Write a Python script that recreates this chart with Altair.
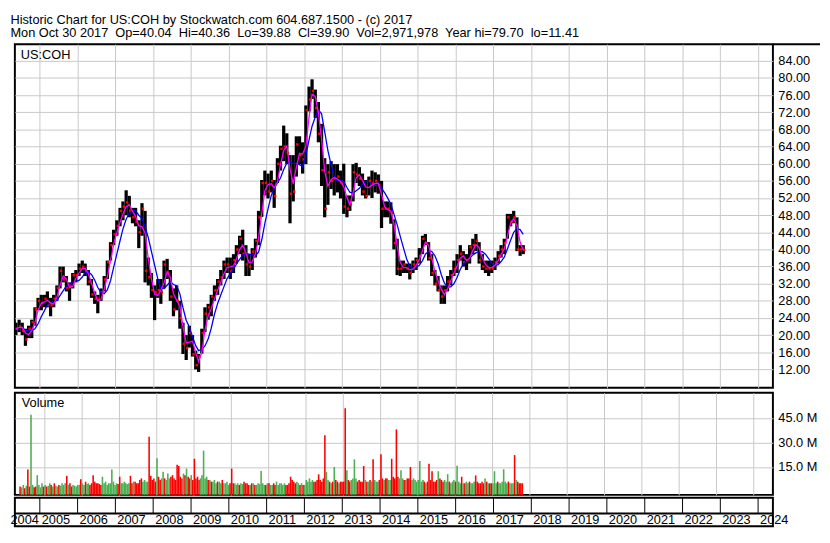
import altair as alt
import pandas as pd

FONT = "Liberation Sans"
GRID = "#c8c8c8"
PW, PH, VH, AH = 772, 350, 104, 29
ROW = 16

TITLE_1 = "Historic Chart for US:COH by Stockwatch.com 604.687.1500 - (c) 2017"
TITLE_2 = ("Mon Oct 30 2017\u00a0 Op=40.04\u00a0 Hi=40.36\u00a0 Lo=39.88\u00a0 Cl=39.90"
           "\u00a0 Vol=2,971,978\u00a0 Year hi=79.70\u00a0 lo=11.41")

# Monthly price bars, May 2004 .. Oct 2017 (one line per year)
HIGH = [
    22.9, 23.6, 22.9, 21.5, 22.2, 23.6, 26.5, 28.7,
    29.4, 29.4, 30.2, 28.7, 29.4, 31.6, 36.0, 36.0, 33.8, 32.3, 34.5, 35.2,
    36.7, 37.4, 36.7, 35.2, 33.1, 30.2, 29.4, 30.9, 33.8, 37.4, 41.7, 44.6,
    46.8, 49.7, 51.2, 53.8, 52.5, 49.7, 49.7, 46.8, 50.8, 49.0, 38.1, 34.5,
    31.6, 33.1, 33.1, 37.4, 37.8, 35.2, 30.9, 31.6, 28.0, 22.9, 20.0, 22.2,
    20.0, 16.4, 15.6, 21.5, 26.5, 27.3, 29.4, 31.6, 33.1, 35.2, 37.4, 38.1,
    38.1, 38.9, 41.0, 43.2, 44.6, 41.0, 38.9, 40.3, 42.5, 49.0, 56.2, 58.4,
    57.7, 58.4, 56.2, 61.3, 64.2, 68.9, 67.1, 62.0, 62.0, 66.4, 66.4, 65.0,
    73.6, 78.0, 79.7, 77.3, 74.4, 69.3, 61.3, 59.9, 60.6, 59.9, 59.9, 58.4,
    60.0, 52.6, 52.6, 59.9, 60.2, 59.2, 57.7, 56.2, 57.0, 58.4, 58.0, 57.5,
    56.0, 51.2, 51.2, 51.0, 47.0, 42.5, 37.4, 37.4, 36.7, 36.7, 37.4, 38.1,
    40.3, 43.2, 43.6, 41.7, 38.9, 35.2, 33.8, 31.6, 31.6, 33.8, 35.2, 37.4,
    38.9, 41.0, 39.6, 38.9, 41.0, 42.5, 43.6, 41.7, 38.9, 37.4, 37.4, 37.4,
    38.1, 39.6, 41.0, 42.5, 48.3, 48.3, 49.0, 47.5, 41.0, 41.0,
]
LOW = [
    20.0, 20.7, 20.0, 17.5, 19.3, 19.3, 22.2, 25.8,
    25.8, 26.5, 26.5, 24.4, 26.5, 28.0, 30.9, 32.3, 30.2, 28.0, 30.9, 32.3,
    33.8, 34.5, 33.8, 31.6, 28.7, 27.3, 25.1, 28.0, 30.2, 33.1, 37.4, 41.0,
    43.2, 45.4, 46.8, 48.0, 47.5, 46.1, 45.4, 40.3, 43.2, 32.3, 31.6, 28.7,
    23.5, 28.7, 27.3, 30.9, 33.1, 28.0, 24.4, 25.8, 21.5, 15.6, 14.2, 17.1,
    15.0, 12.0, 11.41, 15.7, 20.7, 23.6, 24.4, 28.0, 29.4, 31.6, 33.1, 34.5,
    33.1, 34.5, 36.7, 38.9, 37.4, 33.8, 33.8, 35.2, 38.1, 41.0, 47.6, 52.6,
    51.9, 53.3, 49.7, 55.5, 58.4, 60.6, 59.9, 46.1, 51.2, 57.0, 59.9, 57.7,
    59.9, 72.2, 75.1, 70.7, 65.0, 54.8, 47.5, 50.4, 54.1, 52.6, 53.3, 51.9,
    48.3, 47.5, 49.0, 51.2, 55.5, 54.8, 52.6, 51.9, 52.6, 52.0, 53.3, 53.0,
    45.0, 47.5, 47.5, 46.0, 40.0, 34.0, 33.8, 34.5, 34.5, 33.0, 34.5, 35.2,
    36.7, 38.9, 41.0, 37.4, 33.8, 31.6, 30.2, 27.3, 27.3, 30.2, 31.6, 33.8,
    34.5, 37.4, 36.0, 35.2, 36.7, 38.9, 39.6, 36.7, 35.2, 34.5, 33.8, 34.5,
    35.2, 36.7, 38.1, 38.9, 42.5, 45.4, 46.1, 39.6, 38.5, 38.9,
]
CLOSE = [
    21.5, 22.0, 21.0, 19.0, 21.5, 23.0, 26.0, 28.0,
    27.5, 28.5, 27.0, 27.0, 28.5, 31.0, 35.0, 33.0, 31.0, 31.5, 34.0, 34.0,
    35.5, 36.0, 35.0, 32.5, 29.5, 28.5, 28.5, 30.0, 33.0, 37.0, 41.0, 43.5,
    45.5, 49.0, 50.0, 51.0, 49.0, 47.5, 46.5, 44.0, 49.5, 35.0, 33.5, 30.5,
    30.0, 30.5, 30.0, 36.5, 34.5, 29.0, 26.0, 28.0, 24.0, 18.0, 17.0, 20.5,
    15.5, 13.0, 15.0, 20.5, 25.0, 26.5, 29.0, 30.5, 32.5, 33.5, 36.5, 36.5,
    35.0, 37.5, 40.0, 42.5, 39.0, 36.5, 36.0, 39.5, 42.0, 47.5, 55.5, 55.5,
    53.5, 56.0, 52.5, 60.0, 63.5, 64.0, 62.5, 53.0, 53.5, 64.5, 62.0, 61.0,
    72.5, 75.0, 77.0, 73.0, 67.0, 58.5, 49.5, 58.0, 56.0, 56.5, 57.0, 55.5,
    50.0, 49.5, 50.5, 58.0, 57.5, 56.5, 53.5, 52.5, 56.0, 55.5, 56.0, 55.0,
    49.5, 49.5, 49.5, 48.5, 41.5, 35.5, 35.5, 36.5, 35.5, 34.5, 36.5, 37.5,
    38.5, 42.5, 41.5, 38.0, 34.5, 32.0, 30.5, 29.0, 30.5, 32.5, 34.0, 35.5,
    37.5, 39.0, 37.0, 37.5, 40.5, 41.0, 42.0, 37.5, 36.0, 35.5, 35.5, 35.5,
    37.0, 38.5, 40.0, 41.5, 47.5, 46.5, 47.5, 40.0, 40.0, 39.9,
]

# Volume in millions, two bars per month (first half, second half)
VOLUME = [
    3, 2.5, 4, 2, 3.5, 13.4, 3, 47, 4, 2.5, 3, 10, 4, 2.5, 5, 3,
    4, 3, 3.5, 5, 4, 3, 5, 3.5, 3, 4, 3.5, 5, 4, 5, 9.6, 4, 5, 3, 4, 3.5, 3, 4, 4, 7.5,
    5, 4, 6, 4.5, 5, 4, 5, 10, 6, 5, 5, 4.5, 4, 9, 5, 6, 4, 5, 5, 13.4, 6, 4, 5, 4.5,
    9, 5, 5, 6, 5, 4.5, 5, 9.6, 5, 6, 6, 5, 5, 7, 8, 6, 7, 6, 6, 33.5, 9.6, 7, 8, 6,
    20.4, 9, 7, 8, 12, 8, 7, 11, 8, 9, 10, 8, 7, 16.3, 15.6, 9, 8, 11, 10, 14, 9, 8, 10, 7,
    20, 8, 9, 7, 8, 10, 25, 8, 9, 7, 7, 6, 6, 7, 5, 6, 6, 5, 7, 5, 5, 6, 4, 5,
    14, 5, 5, 4, 5, 4, 5, 4.5, 6, 5, 5, 4, 4, 5, 5, 4, 4, 5, 4.5, 12.5, 5, 4, 4, 5,
    5, 4, 4, 5, 4, 6, 4, 5, 5, 4, 5, 4, 4, 5, 9, 7, 6, 5, 6, 5, 4, 5, 4, 4,
    7, 6, 8, 6, 7, 6, 6, 7, 10.5, 7, 6, 8, 34.4, 12, 7, 6, 5, 6, 15, 7, 6, 5, 6, 6,
    6, 51, 13, 7, 6, 7, 8, 19.7, 8, 6, 7, 6, 6, 15.6, 7, 6, 6, 7, 6, 19.7, 7, 6, 6, 7,
    22.8, 8, 7, 8, 8, 7, 7, 20, 9, 8, 38, 9, 8, 13, 8, 7, 7, 8, 8, 15, 7, 8, 7, 6,
    7, 18.6, 6, 7, 6, 5, 6, 17, 7, 12.4, 6, 6, 7, 12.4, 8, 7, 6, 7, 6, 10.6, 6, 5, 6, 7,
    6, 15.8, 6, 5, 9, 5, 5, 6, 5, 6, 5, 5, 6, 9.8, 6, 5, 5, 6, 5, 8, 6, 5, 5, 5,
    5, 12.4, 5, 6, 5, 5, 6, 13.6, 6, 5, 6, 5, 5, 5, 22.3, 7, 6, 5, 5, 5,
]
# u = up period (green), d = down period (red)
DIRECTION = "".join(s.replace(" ", "") for s in [
    "du ud ud du ud du uu ud",
    "ud uu du du ud uu uu du dd uu uu ud",
    "uu du ud dd dd dd du uu uu uu uu ud",
    "du uu uu ud du dd dd du uu ud dd dd",
    "ud du ud uu ud dd dd dd du du dd ud",
    "dd dd uu uu ud ud uu ud uu du uu ud",
    "dd uu ud uu dd dd ud ud uu uu uu du",
    "du ud du uu uu ud dd dd dd uu du du",
    "uu uu ud dd dd dd du ud ud ud du dd",
    "dd ud du uu ud dd dd ud ud ud uu ud",
    "dd ud du ud dd dd uu ud ud dd uu uu",
    "uu uu du dd dd dd du dd du uu du uu",
    "du uu du du ud uu ud dd dd du du dd",
    "uu ud uu uu uu du uu du dd dd",
])

PRICE_TICKS = list(range(12, 85, 4))
VOLUME_TICKS = [15, 30, 45]
YEARS = list(range(2004, 2025))
P_DOMAIN = [7.7, 87.9]
V_DOMAIN = [-2.1, 60.5]

assert len(HIGH) == len(LOW) == len(CLOSE) == 162
assert len(VOLUME) == len(DIRECTION) == 324

months = pd.date_range("2004-05-01", periods=len(HIGH), freq="MS")
price_df = pd.DataFrame({
    "date": (months + pd.Timedelta(days=14)).strftime("%Y-%m-%d"),
    "hi": HIGH, "lo": LOW, "cl": CLOSE,
})
halves = []
for m in months:
    halves += [(m + pd.Timedelta(days=7)).strftime("%Y-%m-%d"),
               (m + pd.Timedelta(days=22)).strftime("%Y-%m-%d")]
vol_df = pd.DataFrame({"date": halves, "vol": VOLUME, "dir": list(DIRECTION)})


def dt(y, m, d):
    return alt.DateTime(year=y, month=m, date=d, utc=True)


xscale = alt.Scale(type="utc", domain=[dt(2004, 5, 5), dt(2024, 5, 23)])
grid_axis = alt.Axis(values=[dt(y, 1, 1) for y in YEARS[1:]], grid=True, gridColor=GRID,
                     gridWidth=1, labels=False, ticks=False, domain=False, title=None,
                     minExtent=0, maxExtent=0)
yscale = alt.Scale(domain=P_DOMAIN, nice=False, zero=False)
yaxis = alt.Axis(orient="right", values=PRICE_TICKS, format=".2f", grid=True, gridColor=GRID,
                 ticks=False, domain=False, title=None, labelFont=FONT, labelFontSize=13,
                 labelColor="black", labelPadding=5)


def PY(field):
    return alt.Y(field, type="quantitative", scale=yscale, axis=yaxis)


base = alt.Chart(price_df).encode(x=alt.X("date:T", scale=xscale, axis=grid_axis))
bars = base.mark_rule(color="black", strokeWidth=3.3).encode(y=PY("lo"), y2="hi:Q")
closes = base.mark_square(color="#ff0000", size=6, opacity=1, xOffset=1).encode(y=PY("cl"))
ma = (base.transform_calculate(mid="(datum.hi + datum.lo) / 2")
      .transform_window(fast="mean(mid)", frame=[-1, 0], sort=[alt.SortField("date")])
      .transform_window(slow="mean(mid)", frame=[-4, 0], sort=[alt.SortField("date")]))
slow = ma.mark_line(color="#0000ff", strokeWidth=1.3).encode(y=PY("slow"))
fast = ma.mark_line(color="#ff00ff", strokeWidth=1.3).encode(y=PY("fast"))
sym = alt.Chart(pd.DataFrame({"t": ["US:COH"]})).mark_text(
    align="left", baseline="middle", font=FONT, fontSize=13, color="black"
).encode(x=alt.value(6), y=alt.value(11), text="t:N")
header_rule = alt.Chart(pd.DataFrame({"t": [0]})).mark_rule(color="black", strokeWidth=2).encode(
    x=alt.value(PW), x2=alt.value(PW + 48), y=alt.value(0))
price = alt.layer(bars, closes, slow, fast, sym, header_rule).properties(width=PW, height=PH)

vscale = alt.Scale(domain=V_DOMAIN, nice=False, zero=False)
vaxis = alt.Axis(orient="right", values=VOLUME_TICKS, labelExpr="format(datum.value, '.1f') + ' M'",
                 grid=True, gridColor=GRID, ticks=False, domain=False, title=None,
                 labelFont=FONT, labelFontSize=13, labelColor="black", labelPadding=5)
vbars = alt.Chart(vol_df).mark_bar(width=1.6).encode(
    x=alt.X("date:T", scale=xscale, axis=grid_axis),
    y=alt.Y("vol:Q", scale=vscale, axis=vaxis),
    y2=alt.Y2Datum(V_DOMAIN[0]),
    color=alt.Color("dir:N", scale=alt.Scale(domain=["d", "u"], range=["#ff0000", "#4caf50"]),
                    legend=None),
)
vlabel = alt.Chart(pd.DataFrame({"t": ["Volume"]})).mark_text(
    align="left", baseline="middle", font=FONT, fontSize=13, color="black"
).encode(x=alt.value(7), y=alt.value(11), text="t:N")
volume = alt.layer(vbars, vlabel).properties(width=PW, height=VH)

# year labels: each written just right of its year's start line; the first (partial) year
# is written just left of the next year's line
lab_df = pd.DataFrame({
    "date": [f"{y}-01-01" for y in YEARS[1:]],
    "label": [str(y) for y in YEARS[1:]],
})
first_df = pd.DataFrame({"date": [f"{YEARS[1]}-01-01"], "label": [str(YEARS[0])]})
div_df = pd.DataFrame({"date": [f"{y}-01-01" for y in YEARS[1:]]})
ax_x = alt.X("date:T", scale=xscale, axis=None)
LAB_Y = ROW + (AH - ROW) / 2 + 0.5
year_labels = alt.Chart(lab_df).mark_text(
    align="left", baseline="middle", dx=2, font=FONT, fontSize=13, color="black"
).encode(x=ax_x, y=alt.value(LAB_Y), text="label:N")
first_label = alt.Chart(first_df).mark_text(
    align="right", baseline="middle", dx=-1, font=FONT, fontSize=13, color="black"
).encode(x=ax_x, y=alt.value(LAB_Y), text="label:N")
dividers = alt.Chart(div_df).mark_rule(color="black", strokeWidth=1).encode(
    x=ax_x, y=alt.value(0), y2=alt.value(ROW))
row_line = alt.Chart(pd.DataFrame({"t": [0]})).mark_rule(color="black", strokeWidth=2).encode(
    x=alt.value(0), x2=alt.value(PW), y=alt.value(ROW))
axis_panel = alt.layer(dividers, row_line, year_labels, first_label).properties(width=PW, height=AH)

chart = alt.vconcat(
    price,
    alt.vconcat(volume, axis_panel, spacing=0),
    spacing=3,
).properties(
    title=alt.TitleParams(text=[TITLE_1, TITLE_2], anchor="start", font=FONT, fontSize=13,
                          fontWeight="normal", color="black", lineHeight=14, offset=2, dx=1),
    padding={"left": 1, "top": 1, "right": 0, "bottom": 0},
    background="white",
).configure_view(stroke="black", strokeWidth=2)

chart.save("out.html", embed_options={"renderer": "svg", "actions": False})
